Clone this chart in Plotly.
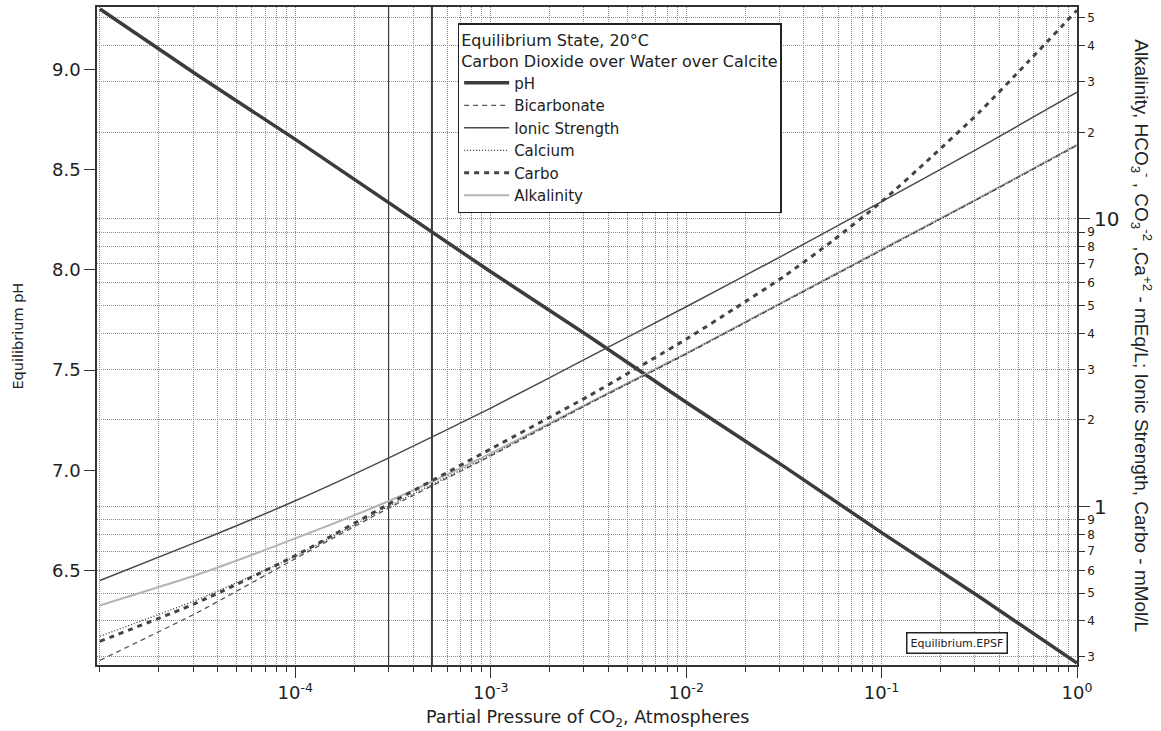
import plotly.graph_objects as go

# ---------------- data ----------------
pco2 = [1e-5, 3.162e-5, 1e-4, 3.162e-4, 1e-3, 3.162e-3, 1e-2, 3.162e-2, 0.1, 0.3162, 1.0]
ph = [9.30, 8.97, 8.65, 8.32, 7.99, 7.67, 7.34, 7.02, 6.69, 6.37, 6.04]
bicarbonate = [0.292, 0.4285, 0.659, 1.006, 1.50, 2.27, 3.39, 5.14, 7.78, 11.8, 18.0]
ionic_strength = [0.553, 0.755, 1.047, 1.50, 2.20, 3.30, 4.95, 7.50, 11.48, 17.66, 27.6]
calcium = [0.354, 0.475, 0.672, 1.02, 1.51, 2.28, 3.40, 5.15, 7.80, 11.8, 18.1]
alkalinity = [0.453, 0.580, 0.775, 1.06, 1.53, 2.29, 3.41, 5.17, 7.83, 11.85, 18.1]
carbo_pco2 = [1e-5, 3.162e-5, 1e-4, 3.162e-4, 1e-3, 3.162e-3, 1e-2, 1.778e-2, 3.162e-2,
              5.623e-2, 0.1, 0.1778, 0.3162, 0.5623, 1.0]
carbo = [0.340, 0.464, 0.675, 1.039, 1.586, 2.42, 3.82, 4.89, 6.31, 8.4, 11.48, 16.3, 23.5, 35.2, 53.2]
marker_pco2 = [3e-4, 5e-4]

x_major = [1e-4, 1e-3, 1e-2, 1e-1, 1.0]
x_major_text = ["10<sup>-4</sup>", "10<sup>-3</sup>", "10<sup>-2</sup>", "10<sup>-1</sup>", "10<sup>0</sup>"]
ph_ticks = [6.5, 7.0, 7.5, 8.0, 8.5, 9.0]
right_major = [1, 10]
right_major_text = ["1", "10"]

ph_range = [6.03, 9.31]
x_log_range = [-5.015, 0.0]
right_log_range = [-0.551, 1.737]

FONT = "DejaVu Sans"
GRID = "#8c8c8c"
GDASH = "1px,1px"
AXC = "#333333"

# minor tick positions
x_minor = []
for e in range(-5, 0):
    for d in range(1, 10):
        v = d * 10.0 ** e
        if v not in x_major:
            x_minor.append(v)

r_vals, r_text = [], []
for e in (-1, 0, 1):
    for d in range(1, 10):
        v = d * 10.0 ** e
        if 0.28 <= v <= 54:
            r_vals.append(v)
            r_text.append("" if d == 1 else str(d))

fig = go.Figure()

# reference vertical lines
for xv, w in zip(marker_pco2, [1.2, 2.0]):
    fig.add_trace(go.Scatter(x=[xv, xv], y=ph_range, mode="lines", yaxis="y",
                             line=dict(color="#3a3a3a", width=w), showlegend=False,
                             hoverinfo="skip"))

fig.add_trace(go.Scatter(x=pco2, y=ph, name="pH", yaxis="y", mode="lines",
                         line=dict(color="#3c3c3c", width=3.5), legendrank=1))
fig.add_trace(go.Scatter(x=pco2, y=alkalinity, name="Alkalinity", yaxis="y2", mode="lines",
                         line=dict(color="#b4b4b4", width=2, shape="spline", smoothing=0.6),
                         legendrank=6))
fig.add_trace(go.Scatter(x=pco2, y=ionic_strength, name="Ionic Strength", yaxis="y2", mode="lines",
                         line=dict(color="#4a4a4a", width=1.5, shape="spline", smoothing=0.6),
                         legendrank=3))
fig.add_trace(go.Scatter(x=pco2, y=bicarbonate, name="Bicarbonate", yaxis="y2", mode="lines",
                         line=dict(color="#555555", width=1.3, dash="5px,4px", shape="spline",
                                   smoothing=0.6), legendrank=2))
fig.add_trace(go.Scatter(x=pco2, y=calcium, name="Calcium", yaxis="y2", mode="lines",
                         line=dict(color="#333333", width=1.3, dash="1px,2px", shape="spline",
                                   smoothing=0.6), legendrank=4))
fig.add_trace(go.Scatter(x=carbo_pco2, y=carbo, name="Carbo", yaxis="y2", mode="lines",
                         line=dict(color="#444444", width=3, dash="5px,5px", shape="spline",
                                   smoothing=0.6), legendrank=5))

fig.update_layout(
    width=1161, height=731,
    margin=dict(l=97, r=84, t=5, b=66),
    paper_bgcolor="white", plot_bgcolor="white",
    font=dict(family=FONT, color="#222222"),
    xaxis=dict(type="log", range=x_log_range, tickmode="array", tickvals=x_major,
               ticktext=x_major_text, ticks="outside", ticklen=11, tickwidth=1.2,
               tickcolor=AXC, tickfont=dict(size=18, family=FONT, color="#222"),
               showgrid=True, gridcolor=GRID, griddash=GDASH, gridwidth=1,
               showline=True, linecolor=AXC, linewidth=1.5, mirror=True, zeroline=False,
               minor=dict(tickmode="array", tickvals=x_minor, ticks="outside", ticklen=5,
                          tickwidth=1.2, tickcolor=AXC, showgrid=True, gridcolor=GRID,
                          griddash=GDASH, gridwidth=1)),
    yaxis=dict(range=ph_range, tickmode="array", tickvals=ph_ticks,
               ticktext=["%.1f" % v for v in ph_ticks], ticks="outside", ticklen=11,
               tickwidth=1.2, tickcolor=AXC, tickfont=dict(size=18, family=FONT, color="#222"),
               showgrid=False, showline=True, linecolor=AXC, linewidth=1.5, zeroline=False),
    yaxis2=dict(type="log", range=right_log_range, overlaying="y", side="right",
                tickmode="array", tickvals=r_vals, ticktext=r_text, ticks="outside",
                ticklen=6, tickwidth=1.2, tickcolor=AXC,
                tickfont=dict(size=12, family=FONT, color="#222"),
                showgrid=True, gridcolor=GRID, griddash=GDASH, gridwidth=1,
                showline=True, linecolor=AXC, linewidth=1.5, zeroline=False),
    yaxis3=dict(type="log", range=right_log_range, overlaying="y", side="right",
                tickmode="array", tickvals=right_major, ticktext=right_major_text,
                ticks="outside", ticklen=12, tickwidth=1.2, tickcolor=AXC,
                tickfont=dict(size=20, family=FONT, color="#222"),
                showgrid=False, showline=False, zeroline=False),
    legend=dict(x=0.368, y=0.975, xanchor="left", yanchor="top", bgcolor="white",
                bordercolor="#222222", borderwidth=1.5,
                font=dict(family=FONT, size=15, color="#222"),
                title=dict(text="Equilibrium State, 20°C<br>Carbon Dioxide over Water over Calcite",
                           font=dict(family=FONT, size=16, color="#222")),
                tracegroupgap=0, itemwidth=45),
    showlegend=True,
)

# invisible trace to activate yaxis3
fig.add_trace(go.Scatter(x=[pco2[0]], y=[right_major[0]], yaxis="y3", mode="markers",
                         marker=dict(opacity=0), showlegend=False, hoverinfo="skip"))

fig.add_annotation(text="Partial Pressure of CO<sub>2</sub>, Atmospheres", xref="paper", yref="paper",
                   x=0.5, y=-0.082, xanchor="center", yanchor="middle", showarrow=False,
                   font=dict(family=FONT, size=17.5, color="#222"))
fig.add_annotation(text="Equilibrium pH", xref="paper", yref="paper", x=-0.081, y=0.5,
                   xanchor="center", yanchor="middle", textangle=-90, showarrow=False,
                   font=dict(family=FONT, size=14.5, color="#222"))
fig.add_annotation(text="Alkalinity, HCO<sub>3</sub><sup>-</sup> , CO<sub>3</sub><sup>-2</sup> ,Ca<sup>+2</sup>"
                        " - mEq/L; Ionic Strength, Carbo - mMol/L",
                   xref="paper", yref="paper", x=1.066, y=0.5, xanchor="center", yanchor="middle",
                   textangle=90, showarrow=False,
                   font=dict(family="Liberation Sans", size=19, color="#222"))
fig.add_annotation(text="Equilibrium.EPSF", xref="paper", yref="paper", x=0.8777, y=0.0336,
                   xanchor="center", yanchor="middle", showarrow=False, bgcolor="white",
                   bordercolor="#222", borderwidth=1.5, borderpad=3,
                   font=dict(family=FONT, size=11, color="#222"))

fig.write_html("out.html", config={"displayModeBar": False},
               post_script="document.body.style.margin='0px';document.body.style.overflow='hidden';")
